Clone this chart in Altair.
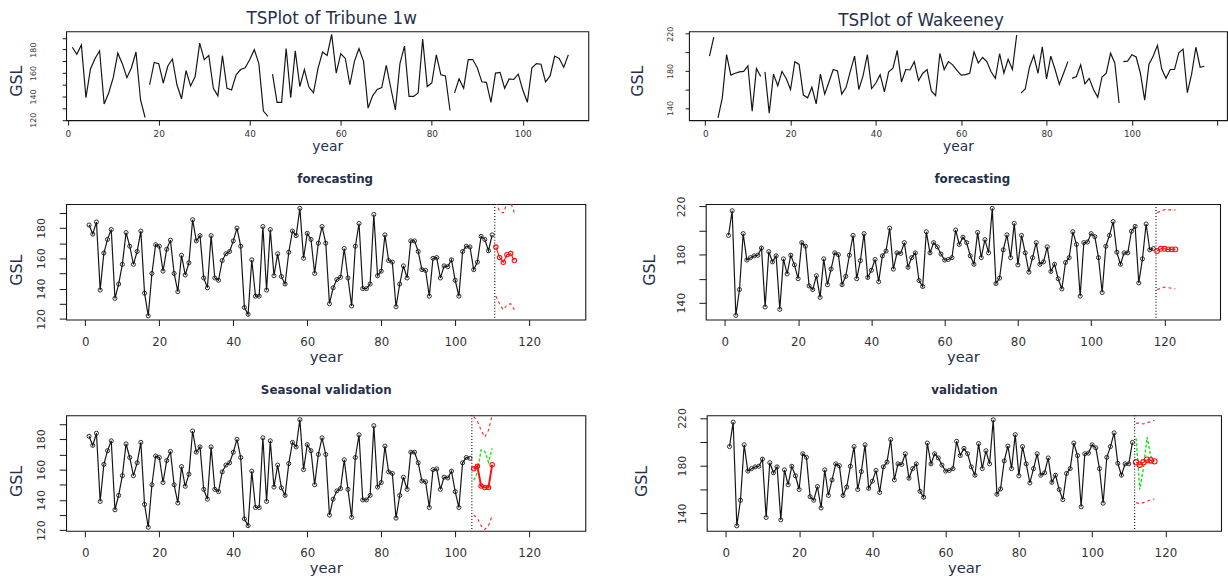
import altair as alt
import pandas as pd

# ---------------- data ----------------
tribune = [182, 176, 184, 139, 163.5, 172.5, 179, 133.5, 143, 156,
           177, 168, 156, 164.5, 178, 137, 122, 150, 169, 168,
           151.5, 166, 172, 150, 138, 162, 149, 157, 185.5, 171.5,
           175, 147, 140.5, 175, 147, 145.5, 158.5, 163, 164.5, 171.5,
           180, 168, 127.5, 123, 159, 135, 135, 181, 139, 179,
           148.5, 163, 148, 143, 164, 178, 175, 193, 160, 176.5,
           172.5, 150, 170, 181, 170, 130, 140.5, 146, 147.5, 166.5,
           147, 128.5, 168, 183, 140, 140, 143, 189, 148.5, 151.5,
           175.5, 158.5, 157.5, 128, 143, 155, 147, 171.5, 171.5, 164.5,
           152.5, 152, 135, 160, 160.5, 147, 155, 154.5, 159, 145.5,
           135, 164.5, 168, 167.5, 152.5, 157.5, 174.5, 172.5, 165, 175.5]

wakeeney = [196, 216.5, 129.5, 151, 197.5, 175.5, 177.5, 179, 179.5, 185.5,
            136.5, 182.5, 174, 179, 134.5, 176.5, 164, 179.5, 171.5, 160,
            190, 187, 154, 151, 162.5, 144.5, 176.5, 155, 168, 181.5,
            180, 155, 162, 179.5, 196, 160, 175, 197.5, 161, 167,
            176, 157.5, 179, 183, 202, 168, 181.5, 181, 190, 169.5,
            177.5, 181.5, 158.5, 153.5, 199, 181.5, 190, 186.5, 180.5, 175.5,
            176, 177.5, 200.5, 188.5, 194.5, 190, 179, 172, 198.5, 177.5,
            192.5, 181.5, 218.5, 156, 160.5, 184, 196.5, 177.5, 206, 171.5,
            196, 181.5, 165.5, 177.5, 190, 172, 174, 186.5, 166, 172,
            160, 151.5, 173.5, 177.5, 199, 188.5, 145.5, 190, 190.5, 197.5,
            195, 177.5, 148.5, 187, 196, 207.5, 182, 172, 181.5, 181.5,
            199.5, 203.5, 156.5, 176.5, 205.5, 184, 185]

# years after which the line of the top "TSPlot" panels is broken
tribune_ts_breaks = [17, 44, 84]
wakeeney_ts_breaks = [2, 13, 73, 85, 97]

# forecasting panels
trib_fc_years = [111, 112, 113, 114, 115, 116]
trib_fc = [167.4, 160.6, 157.4, 162.4, 163.1, 158.5]
trib_fc_upper = [197, 191, 190, 196, 197, 190]
trib_fc_lower = [135, 130, 126, 129, 130, 126]
trib_fc_cut = 110.7

wake_fc_years = [118, 119, 120, 121, 122, 123]
wake_fc = [183, 184.9, 184.9, 184.4, 184.4, 184.4]
wake_fc_upper = [215, 216, 217.5, 217, 217.5, 217]
wake_fc_lower = [151, 152, 153, 152.5, 152, 151.5]
wake_fc_cut = 117.7

# validation panels
trib_val_n = 104
trib_val_years = [105, 106, 107, 108, 109, 110]
trib_val_pred = [160.5, 162.2, 149.2, 148.2, 148.2, 163.3]
trib_val_actual = [153, 158, 173, 172, 165, 174]
trib_val_upper = [195, 192, 186, 181.5, 186, 196]
trib_val_lower = [130, 128, 123, 120.5, 123, 129.5]
trib_val_cut = 104.5

wake_val_n = 111
wake_val_years = [112, 113, 114, 115, 116, 117]
wake_val_pred = [182.8, 180.8, 182.8, 185, 184.4, 183.6]
wake_val_actual = [203, 160, 178, 204, 188, 184]
wake_val_upper = [215.5, 216, 215, 216, 217, 218]
wake_val_lower = [149, 148, 149, 150, 151.5, 152]
wake_val_cut = 111.6

# ---------------- styling ----------------
FONT = "DejaVu Sans"
INK = "#151515"
LAB = "#333333"
TIT = "#26304a"


def series_df(values, breaks=()):
    yrs = list(range(1, len(values) + 1))
    seg = [sum(1 for b in breaks if y > b) for y in yrs]
    return pd.DataFrame({"year": yrs, "GSL": values, "seg": seg})


def make_enc(xdom, xvals, xlabs, ydom, yvals, ylabs, s):
    xexpr = "indexof(%s, datum.value) >= 0 ? datum.label : ''" % str(list(xlabs))
    yexpr = "indexof(%s, datum.value) >= 0 ? datum.label : ''" % str(list(ylabs))
    X = alt.X("year:Q", scale=alt.Scale(domain=xdom, nice=False, zero=False),
              axis=alt.Axis(orient="bottom", values=xvals, labelExpr=xexpr, title="year",
                            grid=False, domain=False, ticks=True, tickSize=s["xtick"],
                            tickColor=INK, labelFont=FONT, labelFontSize=s["xlab"],
                            labelColor=LAB, labelPadding=s["xpad"], labelFlush=False,
                            labelOverlap=False, titleFont=FONT, titleFontSize=s["xtitle"],
                            titleColor=TIT, titleFontWeight="normal", titleY=s["xtitle_y"],
                            titleBaseline="middle"))
    XT = alt.X("year:Q", scale=alt.Scale(domain=xdom, nice=False, zero=False),
               axis=alt.Axis(orient="top", title=s["title"], labels=False, ticks=False,
                             domain=False, grid=False, titleFont=FONT,
                             titleFontSize=s["tsize"], titleFontWeight=s["tweight"],
                             titleColor=TIT, titleX=s["w"] / 2 + s["tdx"],
                             titleY=s["ty"], titleBaseline="middle", titleAlign="center"))
    Y = alt.Y("GSL:Q", scale=alt.Scale(domain=ydom, nice=False, zero=False),
              axis=alt.Axis(values=yvals, labelExpr=yexpr, title="GSL", grid=False,
                            domain=False, ticks=True, tickSize=s["ytick"], tickColor=INK,
                            labelFont=FONT, labelFontSize=s["ylab"], labelColor=LAB,
                            labelPadding=s["ypad"], labelAngle=270, labelAlign="center",
                            labelBaseline="bottom", labelFlush=False, labelOverlap=False,
                            titleFont=FONT, titleFontSize=s["ytitle"], titleColor=TIT,
                            titleFontWeight="normal", titleAngle=270, titleAlign="center",
                            titleBaseline="top", titleX=-s["L"],
                            titleY=s["h"] / 2 + s["ytitle_dy"]))
    return X, XT, Y


def panel(main_df, X, XT, Y, s, points=True, extra=None):
    layers = [alt.Chart(main_df).mark_line(color=INK, strokeWidth=1.2, clip=True)
              .encode(x=X, y=Y, detail="seg:N")]
    if points:
        layers.append(alt.Chart(main_df).mark_point(shape="circle", filled=False, color=INK,
                                                    size=17, strokeWidth=0.9, opacity=1,
                                                    clip=True).encode(x=X, y=Y))
    if extra:
        cut, yrs, pred, upper, lower, actual, psize, pw = extra
        if actual is not None:
            adf = pd.DataFrame({"year": yrs, "GSL": actual})
            layers.append(alt.Chart(adf).mark_line(color="#19e019", strokeDash=[3, 2],
                                                   strokeWidth=1.4, clip=True)
                          .encode(x=X, y=Y))
        bdf = pd.DataFrame({"year": yrs * 2, "GSL": upper + lower,
                            "bound": ["upper"] * len(yrs) + ["lower"] * len(yrs)})
        layers.append(alt.Chart(bdf).mark_line(color="#ff2020", strokeDash=[3, 3],
                                               strokeWidth=1.1, clip=True)
                      .encode(x=X, y=Y, detail="bound:N"))
        pdf = pd.DataFrame({"year": yrs, "GSL": pred})
        layers.append(alt.Chart(pdf).mark_line(color="#ff1010", strokeWidth=pw, clip=True)
                      .encode(x=X, y=Y))
        layers.append(alt.Chart(pdf).mark_point(shape="circle", filled=False, color="#ff1010",
                                                size=psize, strokeWidth=1.1, opacity=1,
                                                clip=True).encode(x=X, y=Y))
        cdf = pd.DataFrame({"year": [cut]})
        layers.append(alt.Chart(cdf).mark_rule(color=INK, strokeDash=[1, 2], strokeWidth=1.2)
                      .encode(x=X))
    data_layer = alt.layer(*layers)
    title_layer = alt.Chart(main_df).mark_line(opacity=0).encode(x=XT, y=Y)
    return alt.layer(title_layer, data_layer).resolve_scale(x="independent").properties(
        width=s["w"], height=s["h"])


top_style = dict(xtick=5, xlab=9, xpad=5, xtitle=14, xtitle_y=27, ytick=4, ylab=8, ypad=11,
                 ytitle=16, ytitle_dy=5, tsize=17, tweight="normal")
mid_style = dict(xtick=6, xlab=12, xpad=11, xtitle=15, xtitle_y=37, ytick=7, ylab=11, ypad=13,
                 ytitle=16, ytitle_dy=8, tsize=12, tweight="bold", ty=-26)

X_MID = [0, 20, 40, 60, 80, 100, 120]

# ---- row 1 : TSPlots ----
s = dict(top_style, w=529, h=90, L=58, ypad=25, title="TSPlot of Tribune 1w", tdx=4, ty=-12.7)
X, XT, Y = make_enc([-0.35, 114.4], [0, 20, 40, 60, 80, 100], [0, 20, 40, 60, 80, 100],
                    [119.7, 195.6], list(range(120, 200, 10)), [120, 140, 160, 180], s)
p11 = panel(series_df(tribune, tribune_ts_breaks), X, XT, Y, s, points=False)

s = dict(top_style, w=545, h=90, L=60, title="TSPlot of  Wakeeney", tdx=-38, ty=-10.7)
X, XT, Y = make_enc([-3.8, 122.3], [0, 20, 40, 60, 80, 100, 120], [0, 20, 40, 60, 80, 100],
                    [126.9, 222.6], [140, 160, 180, 200, 220], [140, 180, 220], s)
p12 = panel(series_df(wakeeney, wakeeney_ts_breaks), X, XT, Y, s, points=False)

# ---- row 2 : forecasting ----
s = dict(mid_style, w=526, h=117, L=58, title="forecasting", tdx=9)
X, XT, Y = make_enc([-5.2, 135.2], X_MID, X_MID,
                    [119.5, 195.8], list(range(120, 200, 10)), [120, 140, 160, 180], s)
p21 = panel(series_df(tribune), X, XT, Y, s,
            extra=(trib_fc_cut, trib_fc_years, trib_fc, trib_fc_upper, trib_fc_lower, None,
                   20, 1.1))

s = dict(mid_style, w=521, h=117, L=65, title="forecasting", tdx=9)
X, XT, Y = make_enc([-5.2, 135.2], X_MID, X_MID,
                    [126, 222], [140, 160, 180, 200, 220], [140, 180, 220], s)
p22 = panel(series_df(wakeeney), X, XT, Y, s,
            extra=(wake_fc_cut, wake_fc_years, wake_fc, wake_fc_upper, wake_fc_lower, None,
                   24, 1.1))

# ---- row 3 : validation ----
s = dict(mid_style, w=526, h=117, L=58, title="Seasonal validation", tdx=0)
X, XT, Y = make_enc([-5.2, 135.2], X_MID, X_MID,
                    [119.6, 195.8], list(range(120, 200, 10)), [120, 140, 160, 180], s)
p31 = panel(series_df(tribune[:trib_val_n]), X, XT, Y, s,
            extra=(trib_val_cut, trib_val_years, trib_val_pred, trib_val_upper,
                   trib_val_lower, trib_val_actual, 20, 2))

s = dict(mid_style, w=521, h=117, L=74, title="validation", tdx=0)
X, XT, Y = make_enc([-5.2, 135.2], X_MID, X_MID,
                    [125.3, 222.2], [140, 160, 180, 200, 220], [140, 180, 220], s)
p32 = panel(series_df(wakeeney[:wake_val_n]), X, XT, Y, s,
            extra=(wake_val_cut, wake_val_years, wake_val_pred, wake_val_upper,
                   wake_val_lower, wake_val_actual, 30, 1.1))

row1 = alt.hconcat(p11, p12, spacing=40)
row2 = alt.hconcat(p21, p22, spacing=55)
row3 = alt.hconcat(p31, p32, spacing=47)

chart = alt.vconcat(row1, alt.vconcat(row2, row3, spacing=18), spacing=17).properties(
    padding={"left": 8, "top": 5, "right": 0, "bottom": 0},
    background="white",
).configure_view(stroke=INK, strokeWidth=1.1)

chart.save("out.html", embed_options={"renderer": "svg", "actions": False})
